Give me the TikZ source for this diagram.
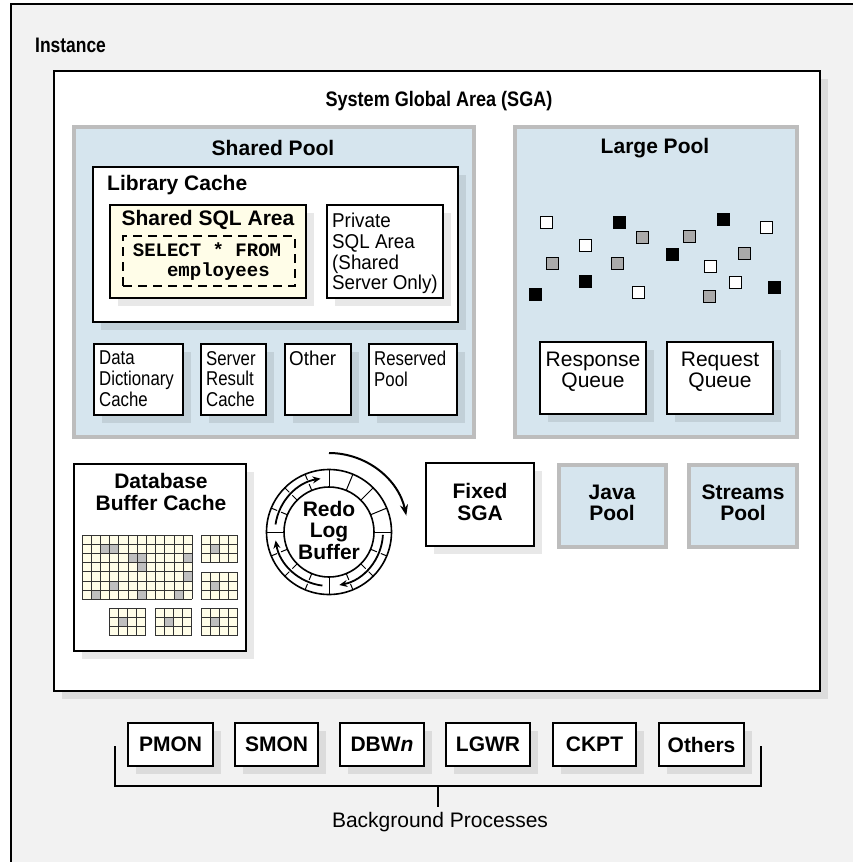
\documentclass[tikz,border=0pt]{standalone}
\usepackage{fontspec}
\setmainfont{Liberation Sans}
\setmonofont{Liberation Mono}
\newfontfamily\narrowA[FakeStretch=0.84]{Liberation Sans}
\newfontfamily\narrowB[FakeStretch=0.94]{Liberation Sans}
\newfontfamily\narrowCB[FakeStretch=0.86]{Liberation Sans Bold}
\newfontfamily\narrowIB[FakeStretch=0.83]{Liberation Sans Bold}
\usetikzlibrary{arrows.meta,shadows}
\definecolor{bgray}{HTML}{F2F2F2}
\definecolor{poolblue}{HTML}{D6E5EE}
\definecolor{poolgray}{HTML}{BDBDBD}
\definecolor{cream}{HTML}{FFFDE8}
\definecolor{cellgray}{HTML}{BFBFBF}
\definecolor{sqgray}{HTML}{AAAAAA}
\tikzset{
  blk/.style={draw=black, line width=2.6pt, fill=white, inner sep=0pt,
    drop shadow={shadow xshift=8pt, shadow yshift=-8pt, fill=black, opacity=0.09}},
  crm/.style={blk, fill=cream},
  pool/.style={draw=poolgray, line width=4pt, fill=poolblue, inner sep=0pt},
  dsh/.style={draw=black, line width=1.3pt, dash pattern=on 9pt off 6pt, inner sep=0pt},
  bt/.style={font=\fontsize{21}{21.5}\selectfont\bfseries, inner sep=0pt, align=center},
  ct/.style={font=\fontsize{21}{21.5}\selectfont\narrowCB, inner sep=0pt, align=center},
  rt/.style={font=\fontsize{20}{20.7}\selectfont, inner sep=0pt, align=left},
  rta/.style={font=\fontsize{20}{20.7}\selectfont\narrowA, inner sep=0pt, align=left},
  rtb/.style={font=\fontsize{20}{20.7}\selectfont\narrowB, inner sep=0pt, align=left},
  qt/.style={font=\fontsize{21}{20.5}\selectfont, inner sep=0pt, align=center},
  mono/.style={font=\fontsize{19}{20}\selectfont\ttfamily\bfseries, inner sep=0pt, align=left},
  sqw/.style={draw=black, line width=0.8pt, fill=white},
  sqg/.style={draw=black, line width=0.8pt, fill=sqgray},
  sqb/.style={draw=black, line width=0.8pt, fill=black},
  ringarr/.style={line width=1.8pt, -{Stealth[length=8pt,width=7pt]},
    preaction={draw=white, line width=4pt, -}},
  bigarr/.style={line width=2pt, -{Stealth[length=11pt,width=8pt]}},
  gridln/.style={draw=black!80, line width=0.8pt},
  brk/.style={draw=black, line width=1.2pt}
}
% name, style, x1, y1, x2, y2, text
\newcommand\rbox[7]{\node[#2, anchor=center, minimum width={#5-#3}, minimum height={#6-#4}] (#1) at ({(#3+#5)/2},{(#4+#6)/2}) {#7};}
% cell grid: x, y, cols, rows, gray cells
\newcommand\cgrid[5]{%
  \begin{scope}[shift={(#1,#2)}]
    \fill[cream] (0,0) rectangle ({#3*9.2},{#4*9.2});
    \foreach \cc/\rr in {#5} \fill[cellgray] ({\cc*9.2},{\rr*9.2}) rectangle ++(9.2,9.2);
    \foreach \i in {0,...,#3} \draw[gridln] ({\i*9.2},0) -- ({\i*9.2},{#4*9.2});
    \foreach \j in {0,...,#4} \draw[gridln] (0,{\j*9.2}) -- ({#3*9.2},{\j*9.2});
  \end{scope}}
\begin{document}
\begin{tikzpicture}[x=1pt,y=-1pt]
\useasboundingbox (0,0) rectangle (853,862);
% Instance
\node[inner sep=0pt, anchor=north west, minimum width=842, minimum height=858, fill=bgray] (inst) at (11,4) {};
\draw[line width=2.6pt] (inst.south west) -- (inst.north west) -- (inst.north east);
\node[ct, anchor=west, font=\fontsize{21}{21.5}\selectfont\narrowIB] (instt) at (35,45) {Instance};
% SGA
\rbox{sga}{blk}{54}{71}{820}{691}{}
\node[ct] (sgat) at (439,101) {System Global Area (SGA)};
% Shared pool
\rbox{sp}{pool}{74}{127}{474}{437}{}
\node[bt] (spt) at (273,148) {Shared Pool};
\rbox{lc}{blk}{93}{167}{458}{322}{}
\node[bt, anchor=west] (lct) at (107,185) {Library Cache};
\rbox{ssql}{crm}{110}{205}{306}{298}{}
\node[bt] (ssqlt) at (208,220) {Shared SQL Area};
\rbox{dsel}{dsh}{123}{236}{295}{286}{}
\node[mono] (sel) at (207,262) {SELECT * FROM\\\phantom{xxx}employees};
\rbox{priv}{blk}{327}{205}{443}{298}{}
\node[rtb, anchor=north west] (privt) at (332,213) {Private\\SQL Area\\(Shared\\Server Only)};
\rbox{ddc}{blk}{94}{344}{183}{415}{}
\node[rta, anchor=north west] (ddct) at (99,351) {Data\\Dictionary\\Cache};
\rbox{src}{blk}{201}{344}{266}{415}{}
\node[rta, anchor=north west] (srct) at (206,351) {Server\\Result\\Cache};
\rbox{oth}{blk}{285}{344}{351}{415}{}
\node[rtb, anchor=north west] (otht) at (289,351) {Other};
\rbox{rsv}{blk}{369}{344}{457}{415}{}
\node[rta, anchor=north west] (rsvt) at (374,351) {Reserved\\Pool};
% Large pool
\rbox{lp}{pool}{515}{127}{797}{437}{}
\node[bt] (lpt) at (655,148) {Large Pool};
\foreach \cx/\cy/\st in {546/222/sqw, 619/222/sqb, 642/237/sqg, 585/245/sqw, 689/236/sqg, 723/219/sqb, 766/227/sqw, 552/263/sqg, 617/263/sqg, 672/254/sqb, 744/253/sqg, 710/266/sqw, 585/281/sqb, 735/282/sqw, 535/294/sqb, 638/292/sqw, 709/296/sqg, 774/287/sqb}
  \draw[\st] ({\cx-6},{\cy-6}) rectangle ++(12,12);
\rbox{rspq}{blk}{540}{342}{646}{414}{}
\node[qt, anchor=north] (rspqt) at (593,352) {Response\\Queue};
\rbox{rqq}{blk}{667}{342}{773}{414}{}
\node[qt, anchor=north] (rqqt) at (720,352) {Request\\Queue};
% Database buffer cache
\rbox{dbc}{blk}{74}{464}{246}{651}{}
\node[bt] (dbct) at (161,492) {Database\\Buffer Cache};
\cgrid{82}{535}{12}{7}{2/1,3/1,5/2,6/2,6/3,11/2,11/4,3/5,1/6,6/6,10/6}
\cgrid{201}{535}{4}{3}{1/1}
\cgrid{201}{572}{4}{3}{1/1}
\cgrid{109}{608}{4}{3}{1/1}
\cgrid{155}{608}{4}{3}{1/1}
\cgrid{201}{608}{4}{3}{1/1}
% Redo log buffer
\begin{scope}[shift={(329,532)}, yscale=-1]
  \fill[white] (0,0) circle[radius=62.5];
  \draw[line width=1.6pt] (0,0) circle[radius=62.5];
  \draw[line width=1.6pt] (0,0) circle[radius=45];
  \foreach \a in {0,22.5,...,337.5} \draw[line width=1pt] (\a:45) -- (\a:62.5);
  \foreach \s/\e in {172/99, 263/189, 357/281}
    \draw[ringarr] (\s:54) arc[start angle=\s, end angle=\e, radius=54];
  \draw[bigarr] (90:79) arc[start angle=90, end angle=12, radius=79];
\end{scope}
\node[bt] (redo) at (329,530) {Redo\\Log\\Buffer};
% Fixed SGA, Java, Streams
\rbox{fsga}{blk}{426}{463}{534}{546}{}
\node[bt] (fsgat) at (480,502) {Fixed\\SGA};
\rbox{java}{pool}{559}{465}{666}{547}{}
\node[bt] (javat) at (612,503) {Java\\Pool};
\rbox{strm}{pool}{689}{465}{797}{547}{}
\node[bt] (strmt) at (743,503) {Streams\\Pool};
% Background processes
\rbox{pmon}{blk,bt}{128}{723}{213}{766}{PMON}
\rbox{smon}{blk,bt}{235}{723}{318}{766}{SMON}
\rbox{dbwn}{blk,bt}{340}{723}{424}{766}{DBW\textit{n}}
\rbox{lgwr}{blk,bt}{446}{723}{530}{766}{LGWR}
\rbox{ckpt}{blk,bt}{553}{723}{636}{766}{CKPT}
\rbox{othr}{blk,bt}{659}{723}{744}{766}{Others}
\coordinate (bl) at (115,746);
\coordinate (br) at (761,746);
\coordinate (bmid) at (438,786);
\node[rt, font=\fontsize{21}{22}\selectfont] (bgp) at (440,822) {Background Processes};
\draw[brk] (bl) -- (bl |- bmid) -- (br |- bmid) -- (br);
\draw[brk] (bmid) -- ++(0,21);
\end{tikzpicture}
\end{document}
